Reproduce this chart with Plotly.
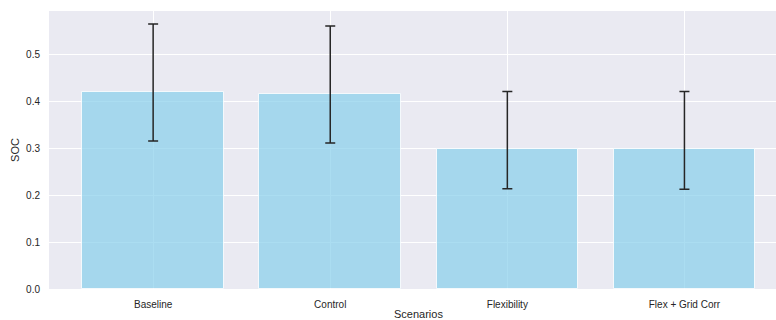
import plotly.graph_objects as go

# Mean state of charge per scenario with asymmetric interval bounds
scenarios = ["Baseline", "Control", "Flexibility", "Flex + Grid Corr"]
soc_mean = [0.421, 0.417, 0.299, 0.299]
soc_upper = [0.566, 0.562, 0.422, 0.422]
soc_lower = [0.316, 0.312, 0.214, 0.213]
y_ticks = [0.0, 0.1, 0.2, 0.3, 0.4, 0.5]

err_plus = [u - m for u, m in zip(soc_upper, soc_mean)]
err_minus = [m - l for m, l in zip(soc_mean, soc_lower)]

text_color = "#262626"
font_family = "Liberation Sans, Arial, sans-serif"
x_pos = list(range(len(scenarios)))

fig = go.Figure()
fig.add_trace(go.Bar(
    x=x_pos,
    y=soc_mean,
    width=0.8,
    marker=dict(color="rgba(135,206,235,0.7)", line=dict(color="rgba(255,255,255,0.8)", width=1)),
    error_y=dict(
        type="data",
        symmetric=False,
        array=err_plus,
        arrayminus=err_minus,
        color="#262626",
        thickness=1.5,
        width=5,
    ),
    hoverinfo="skip",
))

fig.update_layout(
    width=776,
    height=320,
    margin=dict(l=49, r=0, t=11, b=31),
    paper_bgcolor="white",
    plot_bgcolor="#EAEAF2",
    showlegend=False,
    font=dict(family=font_family, size=10, color=text_color),
    bargap=0,
)

fig.update_xaxes(
    range=[-0.588, 3.517],
    tickmode="array",
    tickvals=x_pos,
    ticktext=scenarios,
    showgrid=True,
    gridcolor="white",
    gridwidth=1,
    zeroline=False,
    showline=False,
    ticks="outside",
    ticklen=6,
    tickcolor="rgba(0,0,0,0)",
    tickfont=dict(size=10, color=text_color),
)

fig.update_yaxes(
    range=[0, 0.594],
    tickmode="array",
    tickvals=y_ticks,
    ticktext=[f"{v:.1f}" for v in y_ticks],
    showgrid=True,
    gridcolor="white",
    gridwidth=1,
    zeroline=False,
    showline=False,
    ticks="outside",
    ticklen=6,
    tickcolor="rgba(0,0,0,0)",
    tickfont=dict(size=10, color=text_color),
    title=dict(text="SOC", font=dict(size=11, color=text_color), standoff=4),
)

# x-axis title centred on the full category span
fig.add_annotation(
    x=1.5, xref="x",
    y=0, yref="paper",
    yshift=-25,
    text="Scenarios",
    showarrow=False,
    font=dict(size=11, color=text_color),
    xanchor="center",
    yanchor="middle",
)

fig.write_html("out.html")
